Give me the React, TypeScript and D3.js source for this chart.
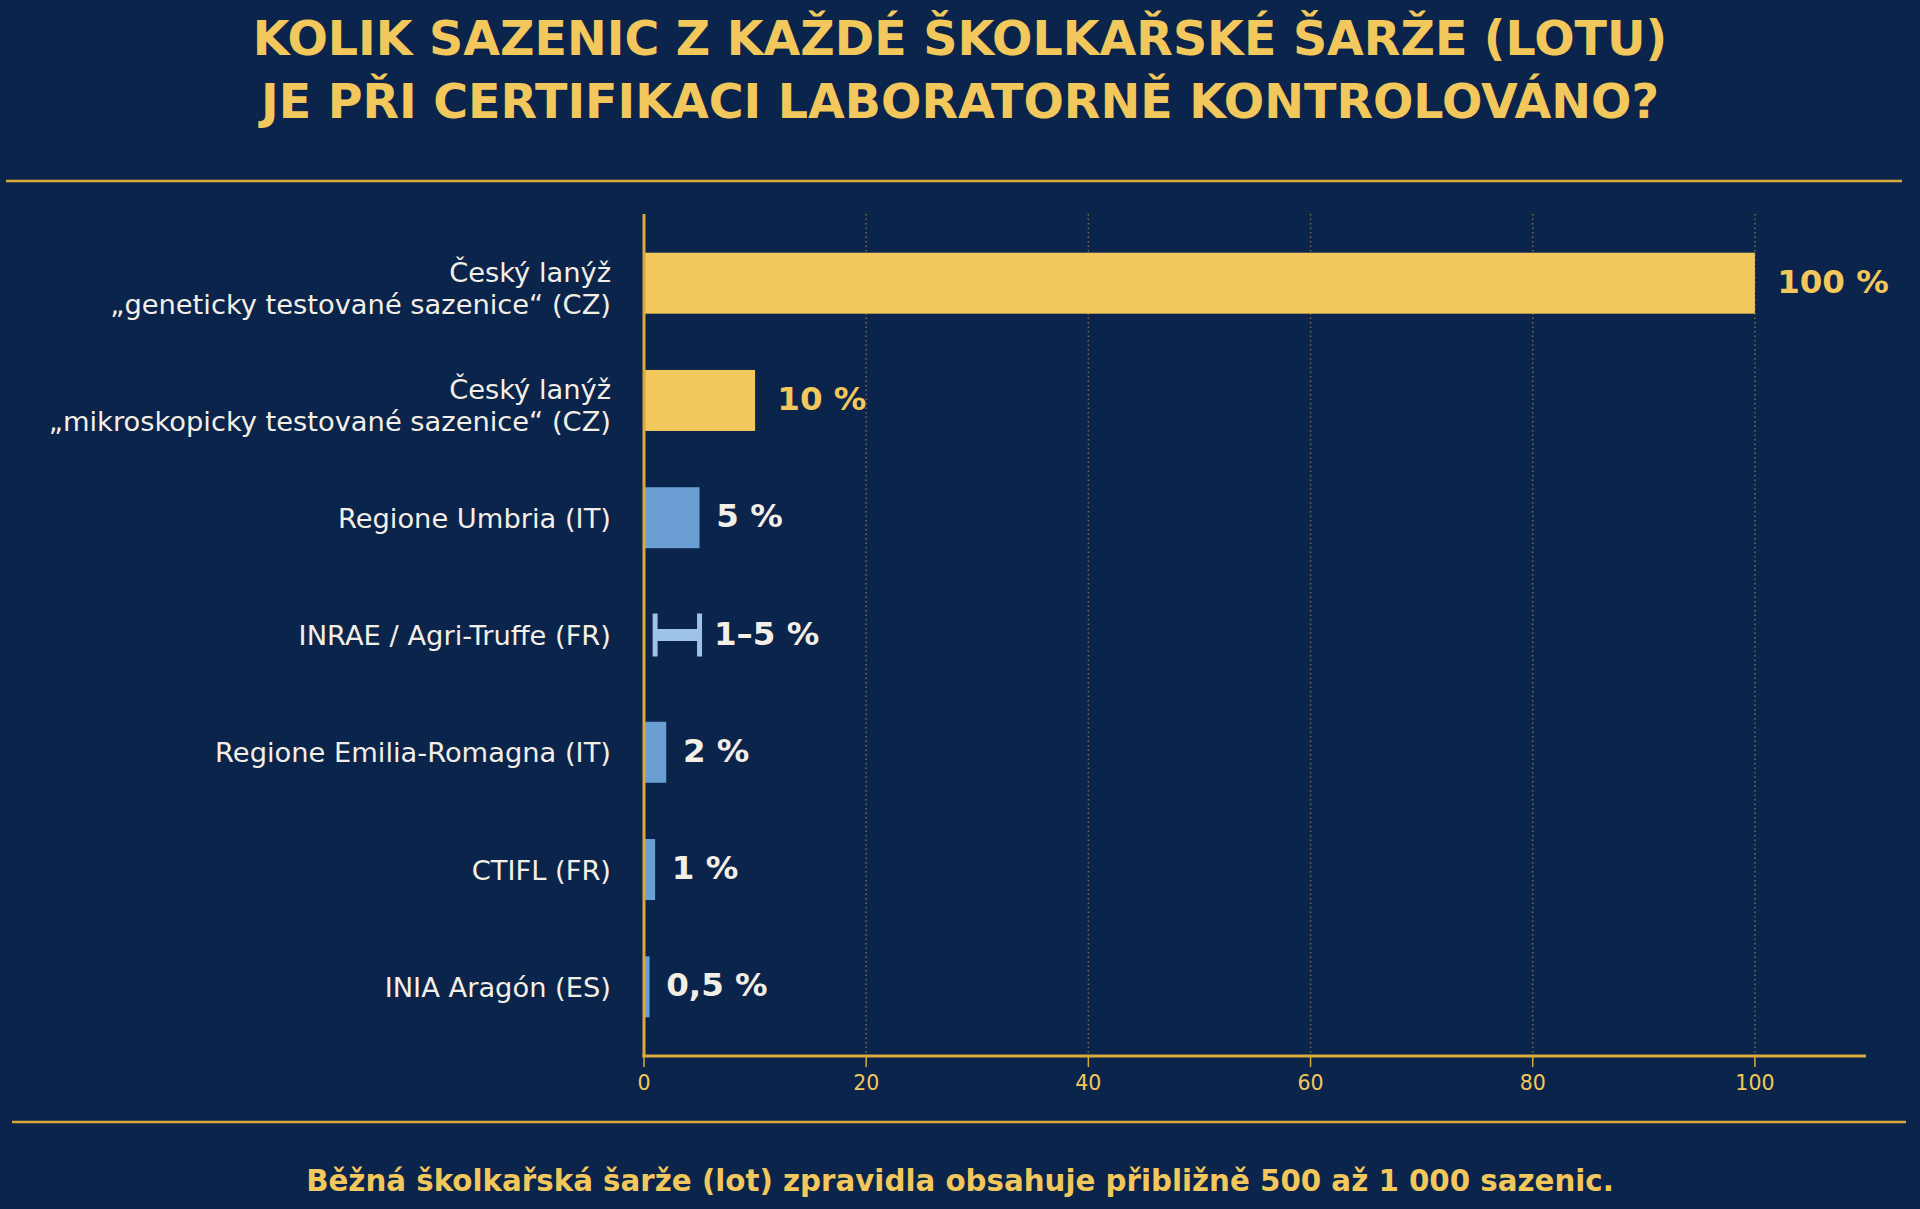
import * as d3 from "d3";

// categories, top to bottom
const categories: string[] = [
  "Český lanýž\n„geneticky testované sazenice“ (CZ)",
  "Český lanýž\n„mikroskopicky testované sazenice“ (CZ)",
  "Regione Umbria (IT)",
  "INRAE / Agri-Truffe (FR)",
  "Regione Emilia-Romagna (IT)",
  "CTIFL (FR)",
  "INIA Aragón (ES)",
];
const lowValues: number[] = [0, 0, 0, 1, 0, 0, 0];
const highValues: number[] = [100, 10, 5, 5, 2, 1, 0.5];
const kinds: string[] = ["cz", "cz", "bar", "range", "bar", "bar", "bar"];
const valueLabels: string[] = ["100 %", "10 %", "5 %", "1–5 %", "2 %", "1 %", "0,5 %"];
const xTicks: number[] = [0, 20, 40, 60, 80, 100];

const titleLines = [
  "KOLIK SAZENIC Z KAŽDÉ ŠKOLKAŘSKÉ ŠARŽE (LOTU)",
  "JE PŘI CERTIFIKACI LABORATORNĚ KONTROLOVÁNO?",
];
const footer = "Běžná školkařská šarže (lot) zpravidla obsahuje přibližně 500 až 1 000 sazenic.";

const W = 1920;
const H = 1209;
const BG = "#0B244B";
const GOLD = "#F2C85C";
const SPINE = "#D9AA3A";
const BLUE = "#6B9FD3";
const LIGHT_BLUE = "#9DC3E8";
const TEXT = "#F3EFE6";
const FONT = "'DejaVu Sans', sans-serif";

export default function App() {
  const x = d3.scaleLinear().domain([0, 110]).range([644, 1866]);
  const y = d3.scaleLinear().domain([-0.59, 6.59]).range([214, 1056]);
  const band = y(1) - y(0);
  const barH = 0.52 * band;

  return (
    <div style={{ position: "absolute", left: 0, top: 0 }}>
      <svg width={W} height={H} style={{ display: "block", fontFamily: FONT }}>
        <rect width={W} height={H} fill={BG} />

        {/* title */}
        {titleLines.map((t, i) => (
          <text
            key={i}
            x={W / 2}
            y={55 + i * 63}
            textAnchor="middle"
            fontSize={47.5}
            fontWeight="bold"
            fill={GOLD}
          >
            {t}
          </text>
        ))}
        <line x1={6} x2={1902} y1={181} y2={181} stroke={SPINE} strokeWidth={2.5} />

        {/* grid */}
        {xTicks.slice(1).map((t) => (
          <line
            key={t}
            x1={x(t)}
            x2={x(t)}
            y1={214}
            y2={1056}
            stroke={SPINE}
            strokeOpacity={0.55}
            strokeWidth={1.5}
            strokeDasharray="1.5,3"
          />
        ))}

        {/* bars */}
        {categories.map((c, i) => {
          const cy = y(i);
          const kind = kinds[i];
          if (kind === "range") {
            const x0 = x(lowValues[i]);
            const x1 = x(highValues[i]);
            return (
              <g key={c}>
                <rect x={x0} y={cy - 6} width={x1 - x0} height={12} fill={LIGHT_BLUE} />
                <rect x={x0 - 2.5} y={cy - 21.5} width={5} height={43} fill={LIGHT_BLUE} />
                <rect x={x1 - 2.5} y={cy - 21.5} width={5} height={43} fill={LIGHT_BLUE} />
              </g>
            );
          }
          return (
            <rect
              key={c}
              x={x(0)}
              y={cy - barH / 2}
              width={x(highValues[i]) - x(0)}
              height={barH}
              fill={kind === "cz" ? GOLD : BLUE}
            />
          );
        })}

        {/* value labels */}
        {valueLabels.map((l, i) => (
          <text
            key={l}
            x={x(highValues[i] + (kinds[i] === "cz" ? 2 : kinds[i] === "range" ? 1.3 : 1.5))}
            y={y(i) + 9.5}
            fontSize={32.5}
            fontWeight="bold"
            fill={kinds[i] === "cz" ? GOLD : TEXT}
          >
            {l}
          </text>
        ))}

        {/* category labels */}
        {categories.map((c, i) => {
          const lines = c.split("\n");
          const cy = y(i);
          const first = lines.length === 1 ? cy + 10 : cy - 1.5;
          return (
            <text key={c} x={611} textAnchor="end" fontSize={27.3} fill={TEXT}>
              {lines.map((ln, j) => (
                <tspan key={j} x={611} y={first + j * 32}>
                  {ln}
                </tspan>
              ))}
            </text>
          );
        })}

        {/* axes */}
        <line x1={x(0)} x2={x(0)} y1={214} y2={1057} stroke={SPINE} strokeWidth={3} />
        <line x1={x(0) - 1.5} x2={1866} y1={1056} y2={1056} stroke={SPINE} strokeWidth={3} />
        {xTicks.map((t) => (
          <g key={t} transform={`translate(${x(t)},0)`}>
            <line y1={1056} y2={1067} stroke={SPINE} strokeWidth={1.5} />
            <text y={1090} textAnchor="middle" fontSize={20.5} fill={GOLD}>
              {t}
            </text>
          </g>
        ))}

        {/* footer */}
        <line x1={12} x2={1906} y1={1122} y2={1122} stroke={SPINE} strokeWidth={2.5} />
        <text x={W / 2} y={1191} textAnchor="middle" fontSize={29.3} fontWeight="bold" fill={GOLD}>
          {footer}
        </text>
      </svg>
    </div>
  );
}
